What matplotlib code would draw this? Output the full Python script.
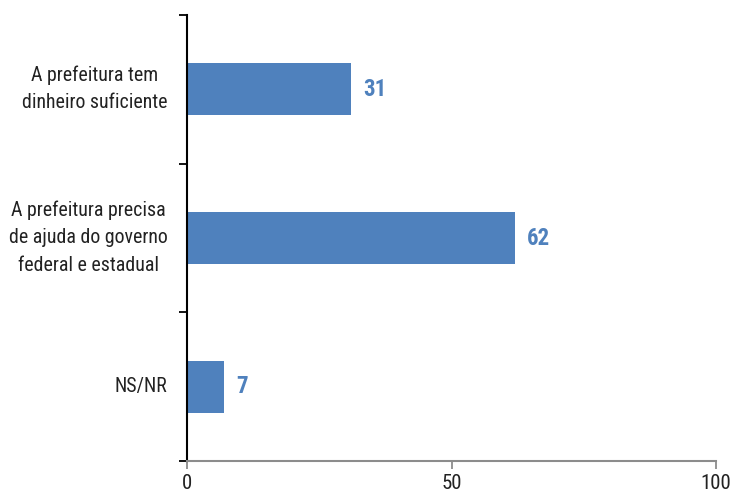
import numpy as np
import matplotlib.pyplot as plt
import matplotlib.transforms as mtransforms

categories = ['A prefeitura tem\ndinheiro suficiente',
              'A prefeitura precisa\nde ajuda do governo\nfederal e estadual',
              'NS/NR']
values = [31, 62, 7]
xticks = [0, 50, 100]

plt.rcParams['font.family'] = ['Roboto Condensed', 'DejaVu Sans']

blue = '#4f81bd'
fig = plt.figure(figsize=(7.31, 4.94), dpi=100)
ax = fig.add_axes([187/731, 1-461/494, (716-187)/731, (461-15)/494])

y = np.arange(len(categories))
ax.barh(y, values, height=0.35, color=blue)
for yi, v in zip(y, values):
    ax.text(v + 2.3, yi, str(v), va='center', ha='left', color=blue,
            fontsize=16.5, fontweight='bold')

ax.set_ylim(len(categories) - 0.5, -0.5)
ax.set_xlim(0, 100)
ax.set_xticks(xticks)
ax.set_xticklabels([str(t) for t in xticks], fontsize=15, color='#222222')

ax.set_yticks(np.arange(len(categories) + 1) - 0.5)
ax.set_yticklabels([])
ax.set_yticks(y, minor=True)
ax.set_yticklabels(categories, minor=True, fontsize=14.3, color='#222222',
                   linespacing=1.55, ha='right', multialignment='center',
                   va='center')
ax.tick_params(axis='y', which='minor', length=0, pad=14)
ax.tick_params(axis='y', which='major', length=6, width=1.3, color='black')
ax.tick_params(axis='x', length=6, width=1.3, color='#8c8c8c', pad=3)

# nudge the category labels up a little
shift = mtransforms.ScaledTranslation(0, 0.5/100, fig.dpi_scale_trans)
for lab in ax.get_yticklabels(minor=True):
    lab.set_transform(lab.get_transform() + shift)

for s in ['top', 'right']:
    ax.spines[s].set_visible(False)
ax.spines['left'].set_linewidth(1.5)
ax.spines['left'].set_color('black')
ax.spines['bottom'].set_linewidth(1.5)
ax.spines['bottom'].set_color('#8c8c8c')

fig.savefig('out.png', dpi=100)
